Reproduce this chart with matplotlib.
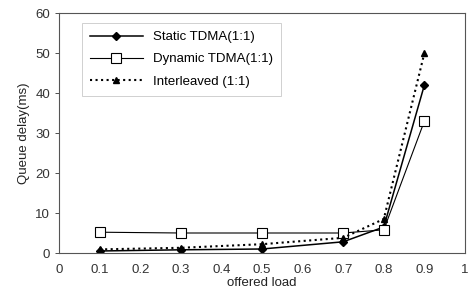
import matplotlib
matplotlib.use("Agg")
import matplotlib.pyplot as plt

plt.rcParams["font.family"] = ["Liberation Sans", "DejaVu Sans"]

# offered load vs queue delay (ms)
load = [0.1, 0.3, 0.5, 0.7, 0.8, 0.9]
static_tdma = [0.5, 0.8, 1.0, 2.8, 6.5, 42.0]
dynamic_tdma = [5.2, 5.0, 5.0, 5.0, 5.8, 33.0]
interleaved = [0.9, 1.3, 2.2, 3.8, 8.5, 50.0]

fig = plt.figure(figsize=(4.73, 2.95), dpi=100)
ax = fig.add_axes([59 / 473, 1 - 253 / 295, 406 / 473, 240 / 295])

ax.plot(load, static_tdma, "-", color="black", lw=1.1, marker="D",
        ms=4, mfc="black", label="Static TDMA(1:1)")
ax.plot(load, dynamic_tdma, "-", color="black", lw=0.8, marker="s",
        ms=6.5, mfc="white", mec="black", mew=0.8, label="Dynamic TDMA(1:1)")
ax.plot(load, interleaved, ":", color="black", lw=1.5, marker="^",
        ms=5, mfc="black", label="Interleaved (1:1)")

ax.set_xlim(0, 1)
ax.set_ylim(0, 60)
ax.set_xticks([i / 10 for i in range(11)])
ax.set_xticklabels(["0", "0.1", "0.2", "0.3", "0.4", "0.5", "0.6",
                    "0.7", "0.8", "0.9", "1"])
ax.set_yticks(range(0, 61, 10))
ax.tick_params(labelsize=9.5, colors="#333333", length=3, width=0.6)
ax.tick_params(axis="x", length=0, pad=8)

for s in ax.spines.values():
    s.set_color("#555555")
    s.set_linewidth(0.8)

ax.set_xlabel("offered load", fontsize=9.5, labelpad=1, color="#222222")
ax.set_ylabel("Queue delay(ms)", fontsize=9.5, labelpad=4, color="#222222")

leg = ax.legend(loc="upper left", bbox_to_anchor=(0.04, 0.985), fontsize=9.5,
                frameon=True, fancybox=False, edgecolor="#bbbbbb",
                handlelength=4.0, borderpad=0.6, labelspacing=0.75)
leg.get_frame().set_linewidth(0.6)

fig.savefig("out.png", dpi=100)
